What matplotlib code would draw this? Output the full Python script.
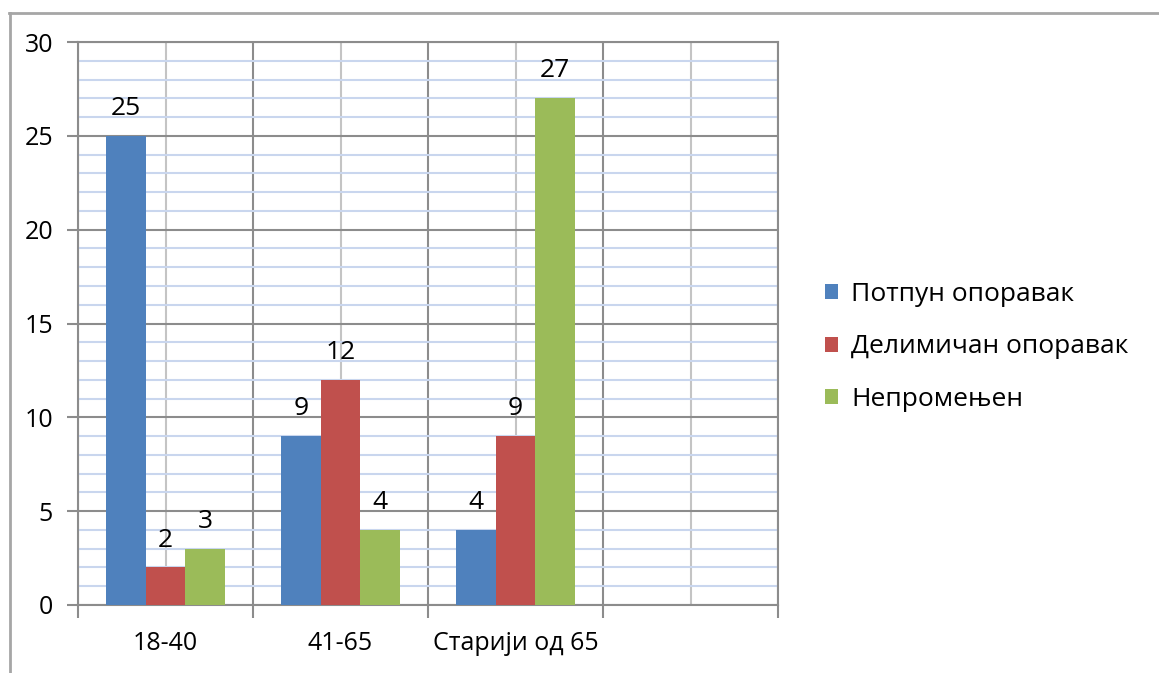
import matplotlib.pyplot as plt
import numpy as np
from matplotlib.lines import Line2D

plt.rcParams["font.family"] = ["Open Sans", "DejaVu Sans"]

categories = ["18-40", "41-65", "Старији од 65", ""]
series_names = ["Потпун опоравак", "Делимичан опоравак", "Непромењен"]
full_recovery = [25, 9, 4]
partial_recovery = [2, 12, 9]
unchanged = [3, 4, 27]
colors = ["#4F81BD", "#C0504D", "#9BBB59"]

fig = plt.figure(figsize=(11.59, 6.73), dpi=100)
ax = fig.add_axes([78 / 1159, 1 - 605 / 673, 700 / 1159, 563 / 673])

width = 0.225
x = np.arange(3)
for i, (name, values, color) in enumerate(zip(series_names, [full_recovery, partial_recovery, unchanged], colors)):
    bars = ax.bar(x + (i - 1) * width, values, width, color=color, label=name, zorder=3)
    for bar, v in zip(bars, values):
        ax.annotate(str(v), (bar.get_x() + bar.get_width() / 2, v), xytext=(0, 15),
                    textcoords="offset points", ha="center", va="baseline", fontsize=19)

ax.set_xlim(-0.5, 3.5)
ax.set_ylim(0, 30)

# category boundaries as major ticks, category names on minor ticks
ax.set_xticks(np.arange(-0.5, 4, 1))
ax.set_xticklabels([])
ax.set_xticks(np.arange(4), minor=True)
ax.set_xticklabels(categories, minor=True, fontsize=18)
ax.tick_params(axis="x", which="major", length=9, width=1.5, color="#8c8c8c")
ax.tick_params(axis="x", which="minor", length=0, pad=19)

ax.set_yticks(np.arange(0, 31, 5))
ax.set_yticks(np.arange(0, 31, 1), minor=True)
ax.tick_params(axis="y", which="major", length=8, width=1.5, color="#8c8c8c", labelsize=18, pad=10)
ax.tick_params(axis="y", which="minor", length=0)

ax.grid(True, which="major", color="#8c8c8c", linewidth=1.5, zorder=1)
ax.grid(True, which="minor", axis="y", color="#c9d6ee", linewidth=1.5, zorder=0)
ax.grid(True, which="minor", axis="x", color="#c4c4c4", linewidth=1.5, zorder=1)
ax.set_axisbelow(True)
for spine in ax.spines.values():
    spine.set_color("#8c8c8c")
    spine.set_linewidth(1.5)

ax.legend(loc="center left", bbox_to_anchor=(801 / 1159, 1 - 347 / 673),
          bbox_transform=fig.transFigure, frameon=False, fontsize=19,
          handlelength=0.5, handleheight=0.5, handletextpad=0.5, labelspacing=1.05)

# outer chart frame (top and left edges visible)
fig.add_artist(Line2D([9 / 1159, 1], [1 - 13 / 673] * 2, transform=fig.transFigure,
                      color="#a6a6a6", linewidth=2))
fig.add_artist(Line2D([10 / 1159] * 2, [0, 1 - 13 / 673], transform=fig.transFigure,
                      color="#a6a6a6", linewidth=2))

fig.savefig("out.png", dpi=100)
plt.close(fig)
